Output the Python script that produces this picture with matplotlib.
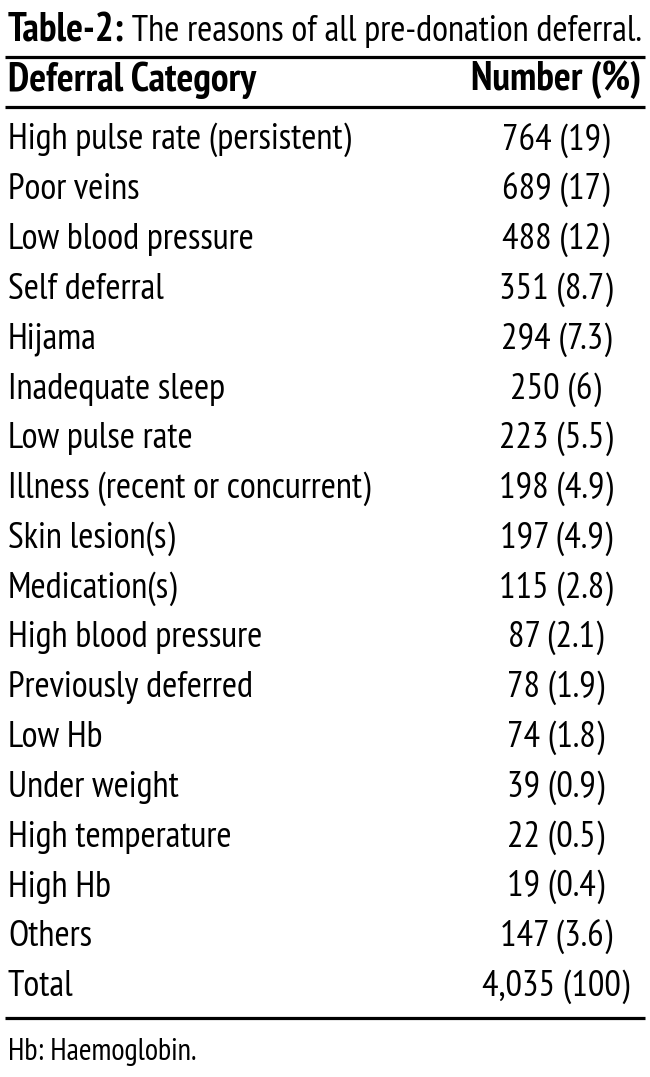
import matplotlib
matplotlib.use("Agg")
import matplotlib.pyplot as plt

categories = [
    "High pulse rate (persistent)", "Poor veins", "Low blood pressure",
    "Self deferral", "Hijama", "Inadequate sleep", "Low pulse rate",
    "Illness (recent or concurrent)", "Skin lesion(s)", "Medication(s)",
    "High blood pressure", "Previously deferred", "Low Hb", "Under weight",
    "High temperature", "High Hb", "Others", "Total",
]
counts = [764, 689, 488, 351, 294, 250, 223, 198, 197, 115, 87, 78, 74, 39, 22, 19, 147, 4035]
percents = [19, 17, 12, 8.7, 7.3, 6, 5.5, 4.9, 4.9, 2.8, 2.1, 1.9, 1.8, 0.9, 0.5, 0.4, 3.6, 100]
title_bold = "Table-2:"
title_rest = " The reasons of all pre-donation deferral."
headers = ["Deferral Category", "Number (%)"]
footnote = "Hb: Haemoglobin."

FONT = ["PT Sans Narrow", "DejaVu Sans"]
W, H = 650, 1077
fig = plt.figure(figsize=(W / 100, H / 100), dpi=100)
ax = fig.add_axes([0, 0, 1, 1])
ax.set_xlim(0, W)
ax.set_ylim(H, 0)
ax.axis("off")

fs = 26.5
fs_bold = 28.5
x_left = 8
x_num = 556

t1 = ax.text(x_left, 31, title_bold, fontsize=fs_bold, fontweight="bold", family=FONT,
             va="center", ha="left")
fig.canvas.draw()
bb = t1.get_window_extent()
x_end = ax.transData.inverted().transform((bb.x1, bb.y0))[0]
ax.text(x_end, 31, title_rest, fontsize=fs, family=FONT, va="center", ha="left")

for y in (57, 107):
    ax.plot([5, 645], [y, y], color="black", lw=2.3, solid_capstyle="butt")
ax.text(x_left, 80, headers[0], fontsize=fs_bold, fontweight="bold", family=FONT, va="center", ha="left")
ax.text(x_num, 80, headers[1], fontsize=fs_bold, fontweight="bold", family=FONT, va="center", ha="center")

y0, dy = 140, 49.8
for i, (c, n, p) in enumerate(zip(categories, counts, percents)):
    y = y0 + i * dy
    ax.text(x_left, y, c, fontsize=fs, family=FONT, va="center", ha="left")
    ax.text(x_num, y, f"{n:,} ({p:g})", fontsize=fs, family=FONT, va="center", ha="center")

ax.plot([5, 645], [1018, 1018], color="black", lw=2.3, solid_capstyle="butt")
ax.text(x_left, 1052, footnote, fontsize=22, family=FONT, va="center", ha="left")

fig.savefig("out.png", dpi=100)
